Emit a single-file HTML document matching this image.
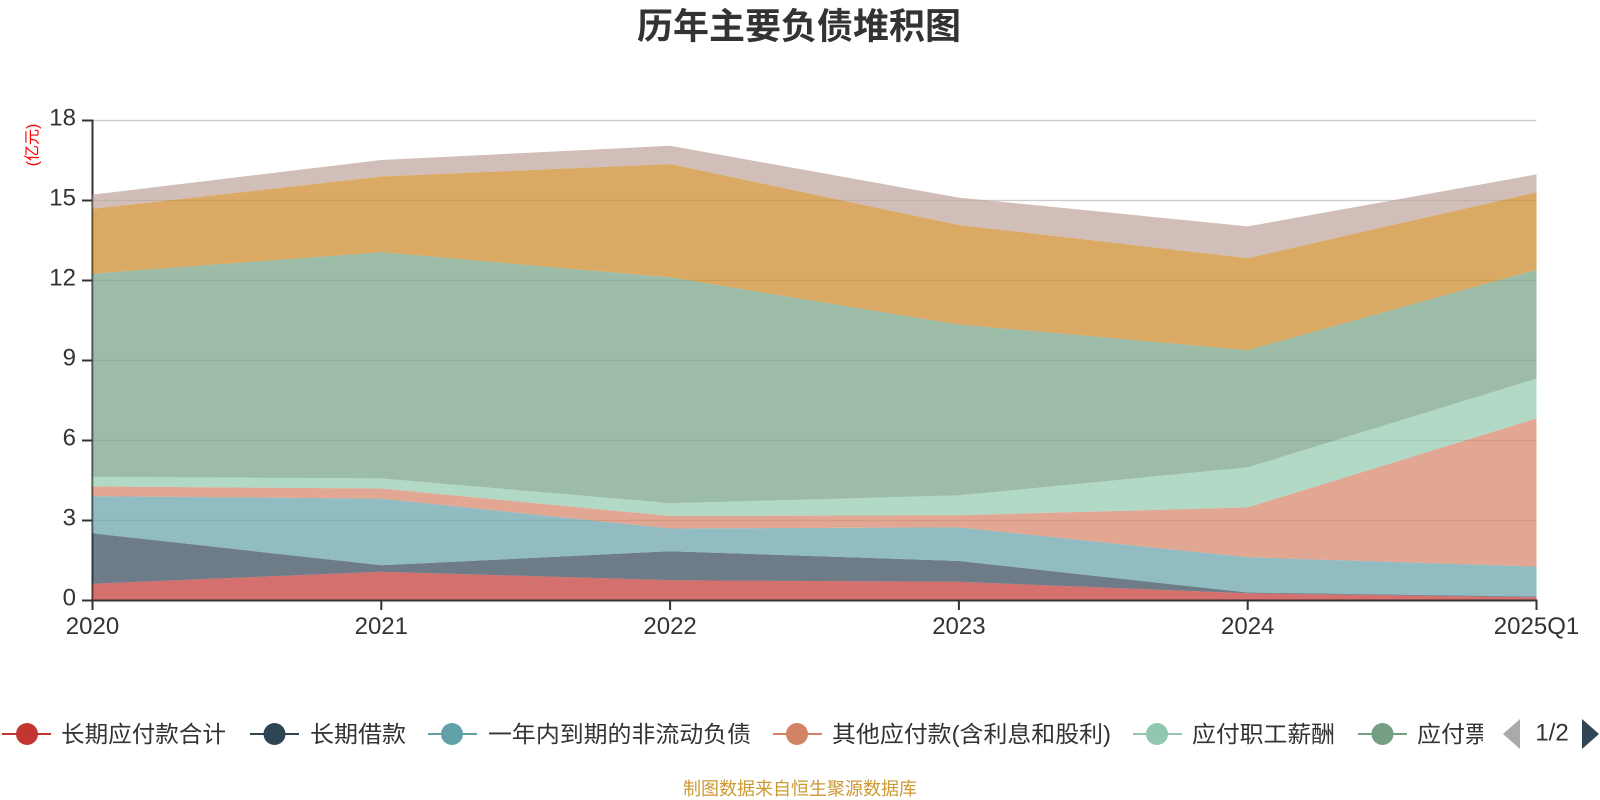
<!DOCTYPE html>
<html>
<head>
<meta charset="utf-8">
<style>
  html, body { margin: 0; padding: 0; background: #ffffff; }
  body { width: 1600px; height: 800px; overflow: hidden; }
  svg { display: block; font-family: "Liberation Sans", "Noto Sans CJK SC", sans-serif; }
</style>
</head>
<body>
<svg width="1600" height="800" viewBox="0 0 1600 800" xmlns="http://www.w3.org/2000/svg">
  <rect width="1600" height="800" fill="#ffffff"/>

  <!-- Title -->
  <text x="799" y="26" text-anchor="middle" dominant-baseline="central" font-size="36" font-weight="bold" fill="#333333" font-family="'Liberation Sans','Noto Sans CJK SC',sans-serif">历年主要负债堆积图</text>

  <!-- Y axis name -->
  <text x="0" y="0" transform="translate(33,145) rotate(-90)" text-anchor="middle" dominant-baseline="central" font-size="16" fill="#ff0000">(亿元)</text>

  <!-- Grid lines -->
  <g stroke="#cccccc" stroke-width="1.2">
    <line x1="92.5" y1="120.5" x2="1536.5" y2="120.5"/>
    <line x1="92.5" y1="200.5" x2="1536.5" y2="200.5"/>
    <line x1="92.5" y1="280.5" x2="1536.5" y2="280.5"/>
    <line x1="92.5" y1="360.5" x2="1536.5" y2="360.5"/>
    <line x1="92.5" y1="440.5" x2="1536.5" y2="440.5"/>
    <line x1="92.5" y1="520.5" x2="1536.5" y2="520.5"/>
  </g>

  <!-- Y axis line (under areas) -->
  <line x1="92.5" y1="119.5" x2="92.5" y2="601" stroke="#333333" stroke-width="2"/>

  <!-- Stacked areas -->
  <g fill-opacity="0.7">
    <polygon fill="#c23531" points="92.5,583.7 381.3,571.7 670.1,580.2 958.9,581.8 1247.7,593.3 1536.5,597.3 1536.5,600.5 92.5,600.5"/>
    <polygon fill="#2f4554" points="92.5,533.3 381.3,565.3 670.1,551.2 958.9,561.0 1247.7,592.5 1536.5,596.5 1536.5,597.3 1247.7,593.3 958.9,581.8 670.1,580.2 381.3,571.7 92.5,583.7"/>
    <polygon fill="#61a0a8" points="92.5,496.2 381.3,498.6 670.1,528.5 958.9,527.4 1247.7,557.3 1536.5,566.6 1536.5,596.5 1247.7,592.5 958.9,561.0 670.1,551.2 381.3,565.3 92.5,533.3"/>
    <polygon fill="#d48265" points="92.5,486.4 381.3,488.5 670.1,516.0 958.9,515.2 1247.7,507.4 1536.5,418.4 1536.5,566.6 1247.7,557.3 958.9,527.4 670.1,528.5 381.3,498.6 92.5,496.2"/>
    <polygon fill="#91c7ae" points="92.5,476.8 381.3,478.4 670.1,503.2 958.9,495.4 1247.7,467.4 1536.5,378.6 1536.5,418.4 1247.7,507.4 958.9,515.2 670.1,516.0 381.3,488.5 92.5,486.4"/>
    <polygon fill="#749f83" points="92.5,273.6 381.3,252.2 670.1,277.3 958.9,324.5 1247.7,350.1 1536.5,269.6 1536.5,378.6 1247.7,467.4 958.9,495.4 670.1,503.2 381.3,478.4 92.5,476.8"/>
    <polygon fill="#ca8622" points="92.5,208.8 381.3,176.5 670.1,164.0 958.9,225.0 1247.7,258.1 1536.5,192.2 1536.5,269.6 1247.7,350.1 958.9,324.5 670.1,277.3 381.3,252.2 92.5,273.6"/>
    <polygon fill="#bda29a" points="92.5,194.6 381.3,160.0 670.1,145.8 958.9,197.6 1247.7,226.4 1536.5,174.4 1536.5,192.2 1247.7,258.1 958.9,225.0 670.1,164.0 381.3,176.5 92.5,208.8"/>
  </g>

  <!-- X axis line & ticks -->
  <line x1="91.5" y1="600.5" x2="1537.5" y2="600.5" stroke="#333333" stroke-width="2"/>
  <g stroke="#333333" stroke-width="2">
    <line x1="92.5" y1="600" x2="92.5" y2="610"/>
    <line x1="381.3" y1="600" x2="381.3" y2="610"/>
    <line x1="670.1" y1="600" x2="670.1" y2="610"/>
    <line x1="958.9" y1="600" x2="958.9" y2="610"/>
    <line x1="1247.7" y1="600" x2="1247.7" y2="610"/>
    <line x1="1536.5" y1="600" x2="1536.5" y2="610"/>
  </g>
  <!-- Y ticks -->
  <g stroke="#333333" stroke-width="2">
    <line x1="82" y1="120.5" x2="92.5" y2="120.5"/>
    <line x1="82" y1="200.5" x2="92.5" y2="200.5"/>
    <line x1="82" y1="280.5" x2="92.5" y2="280.5"/>
    <line x1="82" y1="360.5" x2="92.5" y2="360.5"/>
    <line x1="82" y1="440.5" x2="92.5" y2="440.5"/>
    <line x1="82" y1="520.5" x2="92.5" y2="520.5"/>
    <line x1="82" y1="600.5" x2="92.5" y2="600.5"/>
  </g>

  <!-- Y labels -->
  <g font-size="24" fill="#333333" text-anchor="end" dominant-baseline="central">
    <text x="76" y="118">18</text>
    <text x="76" y="198">15</text>
    <text x="76" y="278">12</text>
    <text x="76" y="358">9</text>
    <text x="76" y="438">6</text>
    <text x="76" y="518">3</text>
    <text x="76" y="598">0</text>
  </g>

  <!-- X labels -->
  <g font-size="24" fill="#333333" text-anchor="middle">
    <text x="92.5" y="634">2020</text>
    <text x="381.3" y="634">2021</text>
    <text x="670.1" y="634">2022</text>
    <text x="958.9" y="634">2023</text>
    <text x="1247.7" y="634">2024</text>
    <text x="1536.5" y="634">2025Q1</text>
  </g>

  <!-- Legend -->
  <defs>
    <clipPath id="legclip"><rect x="0" y="700" width="1483" height="70"/></clipPath>
  </defs>
  <g font-size="23" fill="#333333" dominant-baseline="central">
    <line x1="2" y1="734" x2="51" y2="734" stroke="#c23531" stroke-width="2"/>
    <circle cx="27" cy="734" r="11" fill="#c23531"/>
    <text x="61" y="734" textLength="165" lengthAdjust="spacingAndGlyphs">长期应付款合计</text>

    <line x1="250" y1="734" x2="299" y2="734" stroke="#2f4554" stroke-width="2"/>
    <circle cx="274.5" cy="734" r="11" fill="#2f4554"/>
    <text x="310" y="734" textLength="96" lengthAdjust="spacingAndGlyphs">长期借款</text>

    <line x1="428" y1="734" x2="477" y2="734" stroke="#61a0a8" stroke-width="2"/>
    <circle cx="452" cy="734" r="11" fill="#61a0a8"/>
    <text x="488" y="734" textLength="263" lengthAdjust="spacingAndGlyphs">一年内到期的非流动负债</text>

    <line x1="773" y1="734" x2="822" y2="734" stroke="#d48265" stroke-width="2"/>
    <circle cx="797" cy="734" r="11" fill="#d48265"/>
    <text x="832" y="734" textLength="279" lengthAdjust="spacingAndGlyphs">其他应付款(含利息和股利)</text>

    <line x1="1133" y1="734" x2="1182" y2="734" stroke="#91c7ae" stroke-width="2"/>
    <circle cx="1157" cy="734" r="11" fill="#91c7ae"/>
    <text x="1192" y="734" textLength="143" lengthAdjust="spacingAndGlyphs">应付职工薪酬</text>

    <g clip-path="url(#legclip)">
      <line x1="1358" y1="734" x2="1407" y2="734" stroke="#749f83" stroke-width="2"/>
      <circle cx="1382.5" cy="734" r="11" fill="#749f83"/>
      <text x="1417" y="734" textLength="96" lengthAdjust="spacingAndGlyphs">应付票据</text>
    </g>

    <!-- pager -->
    <polygon points="1520,719 1520,749 1503,734" fill="#aaaaaa"/>
    <text x="1552" y="733" text-anchor="middle" font-size="24">1/2</text>
    <polygon points="1582,719 1582,749 1599,734" fill="#2f4554"/>
  </g>

  <!-- Footer -->
  <text x="800" y="789" text-anchor="middle" dominant-baseline="central" font-size="18" fill="#cc9933">制图数据来自恒生聚源数据库</text>
</svg>
</body>
</html>
